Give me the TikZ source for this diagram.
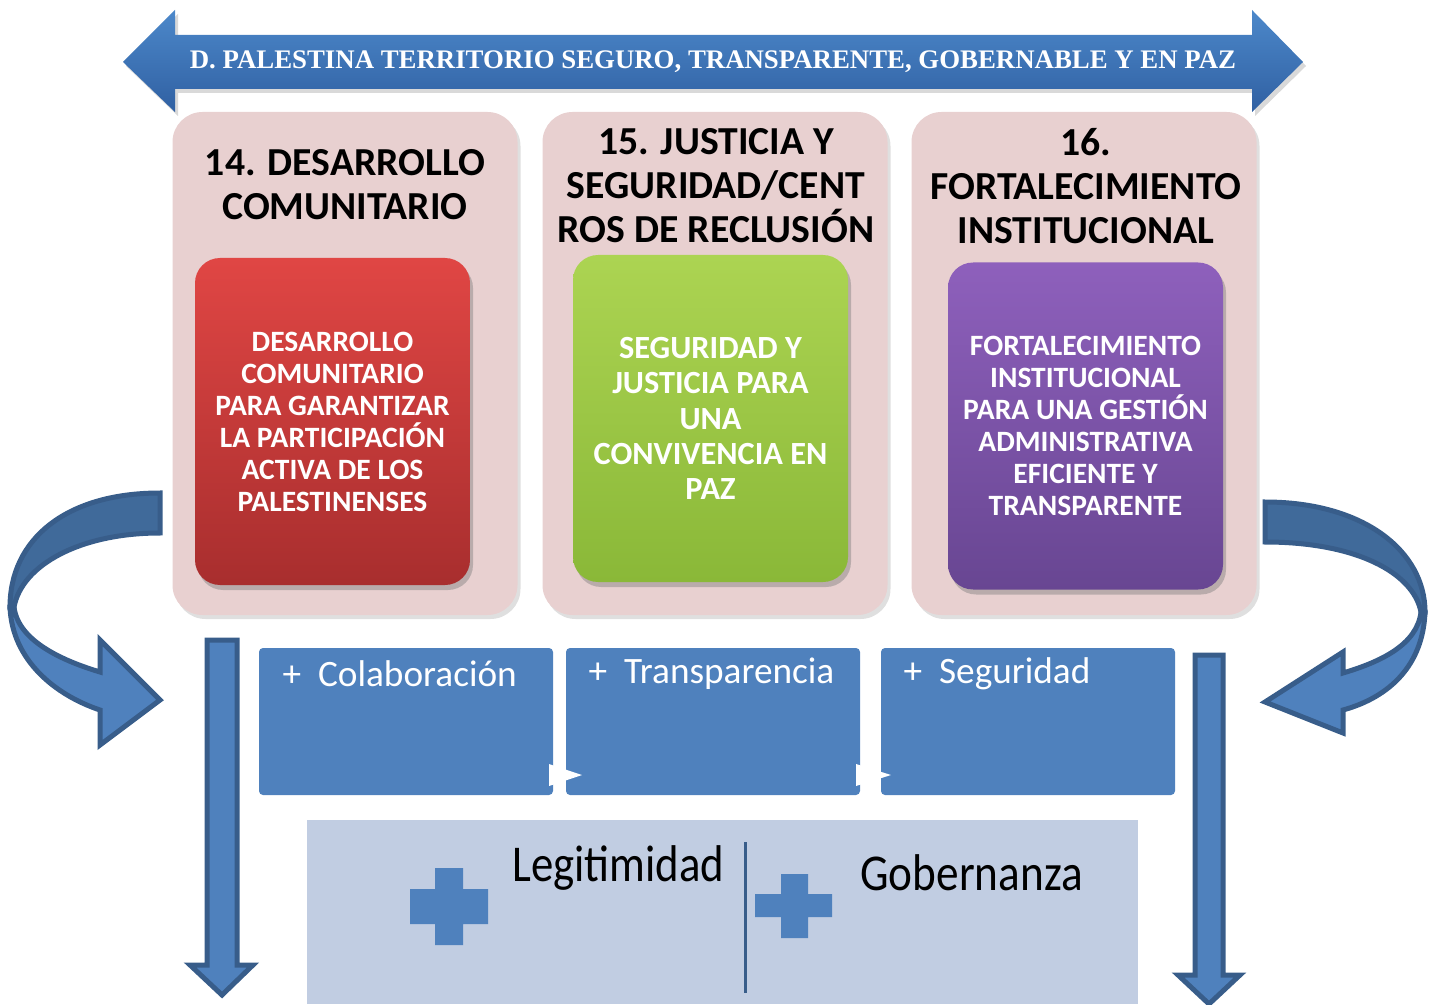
\documentclass[tikz,border=0pt]{standalone}
\usepackage{fontspec}
\setmainfont{Carlito}
\newfontfamily\titlefont{Liberation Serif}
\usetikzlibrary{positioning, shadows, calc}

\definecolor{bandtop}{RGB}{76,136,202}
\definecolor{bandbot}{RGB}{48,96,162}
\definecolor{panelpink}{RGB}{232,208,208}
\definecolor{redtop}{RGB}{224,70,68}
\definecolor{redbot}{RGB}{168,46,46}
\definecolor{greentop}{RGB}{172,212,82}
\definecolor{greenbot}{RGB}{138,184,56}
\definecolor{violettop}{RGB}{142,96,188}
\definecolor{violetbot}{RGB}{104,70,146}
\definecolor{boxblue}{RGB}{79,129,189}
\definecolor{baseblue}{RGB}{193,205,226}
\definecolor{edgeblue}{RGB}{56,93,138}
\definecolor{turnblue}{RGB}{64,106,154}

\tikzset{
  panel/.style = {rectangle, rounded corners=3mm, fill=panelpink,
    minimum width=34.5mm, minimum height=50.3mm, inner sep=0pt, outer sep=0pt,
    drop shadow={shadow xshift=0.3mm, shadow yshift=-0.4mm, opacity=0.25}},
  head/.style = {align=center, font=\bfseries\fontsize{11.3}{12.5}\selectfont},
  core/.style = {rectangle, rounded corners=2.5mm, text=white, align=center,
    minimum width=27.5mm, minimum height=32.7mm,
    font=\bfseries\fontsize{8.4}{9.1}\selectfont,
    drop shadow={shadow xshift=0.3mm, shadow yshift=-0.5mm, opacity=0.45}},
  gainbox/.style = {rectangle, rounded corners=0.4mm, fill=boxblue,
    minimum width=29.4mm, minimum height=14.7mm, inner sep=0pt, outer sep=0pt},
  gaintext/.style = {text=white, anchor=west, inner sep=0pt,
    font=\fontsize{10.6}{12}\selectfont},
  bigarrow/.style = {draw=edgeblue, line width=0.5mm, fill=boxblue, line join=miter},
  plus/.style = {fill=boxblue},
  result/.style = {font=\fontsize{14}{14}\selectfont, anchor=west}
}

\begin{document}
\begin{tikzpicture}[x=0.1mm, y=-0.1mm]
\useasboundingbox (0,0) rectangle (1431,1004);

% three pink columns
\node (p14) [panel] at (345,363.5) {};
\node (p15) [panel, right = 2.5mm of p14] {};
\node (p16) [panel, right = 2.4mm of p15] {};

\node (h14) [head] at (345,185) {14. DESARROLLO\\COMUNITARIO};
\node (h15) [head] at (716,186) {15. JUSTICIA Y\\SEGURIDAD/CENT\\ROS DE RECLUSIÓN};
\node (h16) [head] at (1086,186) {16.\\FORTALECIMIENTO\\INSTITUCIONAL};

\node (c14) [core, top color=redtop, bottom color=redbot] at (332.5,421.5)
  {DESARROLLO\\COMUNITARIO\\PARA GARANTIZAR\\LA PARTICIPACIÓN\\ACTIVA DE LOS\\PALESTINENSES};
\node (c15) [core, top color=greentop, bottom color=greenbot,
  font=\bfseries\fontsize{9.2}{10}\selectfont] at (710.5,418.5)
  {SEGURIDAD Y\\JUSTICIA PARA\\UNA\\CONVIVENCIA EN\\PAZ};
\node (c16) [core, top color=violettop, bottom color=violetbot] at (1085.5,426)
  {FORTALECIMIENTO\\INSTITUCIONAL\\PARA UNA GESTIÓN\\ADMINISTRATIVA\\EFICIENTE Y\\TRANSPARENTE};

% top double arrow
\path[top color=bandtop, bottom color=bandbot,
  drop shadow={shadow xshift=0.3mm, shadow yshift=-0.4mm, opacity=0.3}]
  (123,62) -- (175,10) -- (175,35) -- (1252,35) -- (1252,10) -- (1303,62)
  -- (1252,112) -- (1252,89) -- (175,89) -- (175,112) -- cycle;
\node (band) [text=white, font=\titlefont\bfseries\fontsize{7.63}{8}\selectfont]
  at (713,62) {D. PALESTINA TERRITORIO SEGURO, TRANSPARENTE, GOBERNABLE Y EN PAZ};

% curved arrows
\path[bigarrow, fill=turnblue] (160,493) .. controls (65,493) and (10,540) .. (10,607)
  -- (14,607) .. controls (22,565) and (80,533) .. (160,533) -- cycle;
\path[bigarrow] (10,607) .. controls (12,660) and (55,695) .. (100,710)
  -- (100,745) -- (160,700) -- (100,640) -- (100,672)
  .. controls (60,660) and (18,640) .. (14,607) -- cycle;
\path[bigarrow, fill=turnblue] (1265,502) .. controls (1365,502) and (1425,552) .. (1425,612)
  -- (1421,612) .. controls (1413,572) and (1355,542) .. (1265,542) -- cycle;
\path[bigarrow] (1425,612) .. controls (1423,665) and (1390,697) .. (1343,710)
  -- (1343,733) -- (1265,702) -- (1343,652) -- (1343,673)
  .. controls (1380,662) and (1417,645) .. (1421,612) -- cycle;

% down arrows
\path[bigarrow] (207,640) -- (237,640) -- (237,965) -- (253,965) -- (222,995)
  -- (190,965) -- (207,965) -- cycle;
\path[bigarrow] (1195,655) -- (1223,655) -- (1223,975) -- (1240,975) -- (1209,1004)
  -- (1178,975) -- (1195,975) -- cycle;

% gains
\node (colab) [gainbox, label={[gaintext, xshift=2.3mm, yshift=-2.6mm]north west:{+ \ Colaboración}}]
  at (406,721.5) {};
\node (transp) [gainbox, label={[gaintext, xshift=2.2mm, yshift=-2.6mm]north west:{+ \ Transparencia}},
  right = 1.3mm of colab] {};
\node (segur) [gainbox, label={[gaintext, xshift=2.2mm, yshift=-2.6mm]north west:{+ \ Seguridad}},
  right = 2.1mm of transp] {};
\fill[white] ($(colab.south east)+(-4,-31)$) -- ($(transp.south west)+(16,-20)$)
  -- ($(colab.south east)+(-4,-9)$) -- cycle;
\fill[white] ($(transp.south east)+(-4,-31)$) -- ($(segur.south west)+(10,-20)$)
  -- ($(transp.south east)+(-4,-9)$) -- cycle;

% result
\node (base) [fill=baseblue, minimum width=83.1mm, minimum height=18.4mm, inner sep=0pt]
  at (722.5,912) {};
\draw[edgeblue, line width=0.3mm] (745,842) -- (745,993);
\fill[plus] (435,868) rectangle (463,945) (410,889) rectangle (488,924);
\fill[plus] (781,874) rectangle (808,938) (755,894) rectangle (832,917);
\node (legit) [result] at (500,868) {\scalebox{0.91}[1.05]{Legitimidad}};
\node (gober) [result] at (848,873) {\scalebox{0.92}[1.05]{Gobernanza}};
\end{tikzpicture}
\end{document}
